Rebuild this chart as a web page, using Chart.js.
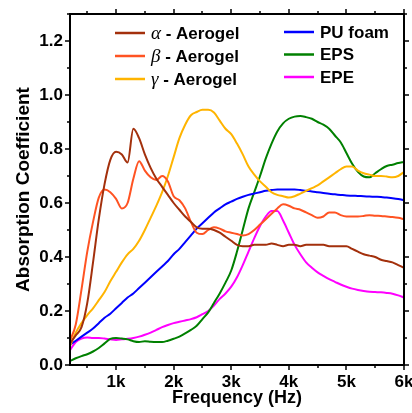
<!DOCTYPE html>
<html>
<head>
<meta charset="utf-8">
<script src="https://cdn.jsdelivr.net/npm/chart.js@4"></script>
<style>
  body { margin: 0; background: #fff; }
  #wrap { width: 412px; height: 413px; }
</style>
</head>
<body>
<div id="wrap"><canvas id="chart"></canvas></div>
<script>
// frequency grid (Hz)
const freqHz = [200, 300, 400, 500, 600, 700, 800, 900, 1000, 1100, 1200, 1300, 1400, 1500, 1600, 1700, 1800, 1900, 2000,
  2100, 2200, 2300, 2400, 2500, 2600, 2700, 2800, 2900, 3000, 3100, 3200, 3300, 3400, 3500, 3600, 3700, 3800, 3900, 4000,
  4100, 4200, 4300, 4400, 4500, 4600, 4700, 4800, 4900, 5000, 5100, 5200, 5300, 5400, 5500, 5600, 5700, 5800, 5900, 6000];

const alphaAerogel = [0.08, 0.11, 0.14, 0.23, 0.38, 0.54, 0.67, 0.76, 0.79, 0.78, 0.75, 0.875, 0.84, 0.78, 0.73, 0.69, 0.66, 0.63, 0.60,
  0.575, 0.55, 0.53, 0.51, 0.505, 0.505, 0.50, 0.49, 0.475, 0.46, 0.445, 0.44, 0.44, 0.445, 0.445, 0.445, 0.45, 0.445, 0.44, 0.445,
  0.445, 0.44, 0.445, 0.445, 0.445, 0.445, 0.44, 0.44, 0.44, 0.44, 0.43, 0.42, 0.41, 0.405, 0.40, 0.39, 0.385, 0.38, 0.37, 0.36];
const betaAerogel = [0.09, 0.15, 0.28, 0.42, 0.53, 0.62, 0.65, 0.64, 0.615, 0.58, 0.60, 0.69, 0.755, 0.72, 0.695, 0.685, 0.70, 0.68, 0.625,
  0.61, 0.58, 0.53, 0.49, 0.485, 0.50, 0.51, 0.505, 0.495, 0.49, 0.485, 0.48, 0.485, 0.50, 0.52, 0.54, 0.56, 0.58, 0.595, 0.59,
  0.58, 0.575, 0.565, 0.555, 0.545, 0.55, 0.565, 0.565, 0.555, 0.55, 0.55, 0.55, 0.552, 0.555, 0.553, 0.552, 0.55, 0.548, 0.545, 0.54];
const gammaAerogel = [0.07, 0.12, 0.155, 0.185, 0.21, 0.24, 0.27, 0.31, 0.345, 0.38, 0.41, 0.43, 0.46, 0.50, 0.545, 0.59, 0.64, 0.70, 0.77,
  0.84, 0.89, 0.925, 0.937, 0.945, 0.945, 0.935, 0.905, 0.875, 0.855, 0.82, 0.78, 0.735, 0.705, 0.68, 0.66, 0.64, 0.63, 0.625, 0.62,
  0.625, 0.635, 0.645, 0.655, 0.665, 0.68, 0.695, 0.71, 0.725, 0.735, 0.735, 0.72, 0.71, 0.705, 0.70, 0.70, 0.698, 0.695, 0.70, 0.715];
const puFoam = [0.075, 0.09, 0.105, 0.12, 0.135, 0.155, 0.175, 0.19, 0.21, 0.23, 0.25, 0.265, 0.285, 0.305, 0.325, 0.345, 0.365, 0.385, 0.41,
  0.43, 0.455, 0.48, 0.505, 0.525, 0.545, 0.565, 0.58, 0.595, 0.605, 0.615, 0.623, 0.63, 0.635, 0.64, 0.645, 0.648, 0.65, 0.65, 0.65,
  0.65, 0.648, 0.645, 0.643, 0.64, 0.637, 0.634, 0.632, 0.63, 0.628, 0.627, 0.626, 0.625, 0.624, 0.623, 0.622, 0.62, 0.618, 0.615, 0.61];
const eps = [0.015, 0.025, 0.033, 0.04, 0.05, 0.063, 0.08, 0.097, 0.10, 0.098, 0.095, 0.088, 0.085, 0.088, 0.086, 0.085, 0.085, 0.09, 0.097,
  0.105, 0.117, 0.13, 0.145, 0.17, 0.195, 0.23, 0.265, 0.305, 0.35, 0.42, 0.50, 0.58, 0.64, 0.70, 0.765, 0.82, 0.865, 0.895, 0.912,
  0.92, 0.922, 0.918, 0.912, 0.90, 0.89, 0.875, 0.85, 0.825, 0.785, 0.745, 0.715, 0.698, 0.695, 0.71, 0.725, 0.737, 0.742, 0.748, 0.752];
const epe = [0.055, 0.085, 0.098, 0.102, 0.10, 0.10, 0.098, 0.095, 0.093, 0.095, 0.097, 0.10, 0.105, 0.112, 0.12, 0.13, 0.14, 0.148, 0.155,
  0.16, 0.165, 0.17, 0.177, 0.188, 0.20, 0.22, 0.245, 0.265, 0.29, 0.325, 0.37, 0.42, 0.47, 0.515, 0.55, 0.57, 0.57, 0.535, 0.49,
  0.445, 0.41, 0.38, 0.36, 0.343, 0.33, 0.318, 0.308, 0.298, 0.29, 0.283, 0.278, 0.274, 0.271, 0.27, 0.269, 0.267, 0.264, 0.258, 0.25];

const xMajor = [1000, 2000, 3000, 4000, 5000, 6000];
const xMinor = [500, 1500, 2500, 3500, 4500, 5500];
const yMajor = [0, 0.2, 0.4, 0.6, 0.8, 1.0, 1.2];
const yMinor = [0.1, 0.3, 0.5, 0.7, 0.9, 1.1, 1.3];

const seriesNames = ['α - Aerogel', 'β - Aerogel', 'γ - Aerogel', 'PU foam', 'EPS', 'EPE'];
const seriesValues = [alphaAerogel, betaAerogel, gammaAerogel, puFoam, eps, epe];
const seriesColors = ['#A3300C', '#FF5322', '#FFB400', '#0000FF', '#008000', '#FF00FF'];

const SANS = '"Liberation Sans", Arial, sans-serif';

// box frame with outward major/minor ticks on all four sides
const frameTicks = {
  id: 'frameTicks',
  afterDraw(chart) {
    const { ctx, chartArea: a, scales: { x, y } } = chart;
    ctx.save();
    ctx.strokeStyle = '#000';
    ctx.lineWidth = 2;
    ctx.strokeRect(a.left, a.top, a.right - a.left, a.bottom - a.top);
    ctx.lineWidth = 1.5;
    ctx.beginPath();
    const markX = (list, len) => {
      list.forEach(v => {
        const px = Math.round(x.getPixelForValue(v));
        ctx.moveTo(px, a.bottom); ctx.lineTo(px, a.bottom + len);
        ctx.moveTo(px, a.top); ctx.lineTo(px, a.top - len);
      });
    };
    const markY = (list, len) => {
      list.forEach(v => {
        const py = Math.round(y.getPixelForValue(v));
        ctx.moveTo(a.left, py); ctx.lineTo(a.left - len, py);
        ctx.moveTo(a.right, py); ctx.lineTo(a.right + len, py);
      });
    };
    markX(xMajor, 5); markX(xMinor, 3);
    markY(yMajor, 5); markY(yMinor, 3);
    ctx.stroke();
    ctx.restore();
  }
};

// two-column legend inside the plot, greek letters in italic serif
const boxLegend = {
  id: 'boxLegend',
  afterDraw(chart) {
    const ctx = chart.ctx;
    const rows = [
      [115, 33], [115, 56], [115, 79],
      [284, 32], [284, 54.5], [284, 77]
    ];
    ctx.save();
    chart.data.datasets.forEach((ds, i) => {
      const [lx, ly] = rows[i];
      ctx.strokeStyle = ds.borderColor;
      ctx.lineWidth = 2.5;
      ctx.beginPath();
      ctx.moveTo(lx, ly); ctx.lineTo(lx + 30, ly);
      ctx.stroke();
      ctx.fillStyle = '#000';
      ctx.textBaseline = 'middle';
      let tx = lx + 36;
      let text = ds.label;
      if (text.includes(' - ')) {
        const greek = text.split(' - ')[0];
        ctx.font = 'italic 19px "Liberation Serif", "Times New Roman", serif';
        ctx.fillText(greek, tx, ly + 1);
        tx += ctx.measureText(greek).width;
        text = ' - ' + text.split(' - ')[1];
      }
      ctx.font = 'bold 17px ' + SANS;
      ctx.fillText(text, tx, ly + 1);
    });
    ctx.restore();
  }
};

const ctx = document.getElementById('chart').getContext('2d');

const chart = new Chart(ctx, {
  type: 'line',
  data: {
    labels: freqHz,
    datasets: seriesNames.map((name, i) => ({
      label: name,
      data: freqHz.map((f, j) => ({ x: f, y: seriesValues[i][j] })),
      borderColor: seriesColors[i],
      backgroundColor: seriesColors[i],
      borderWidth: 2,
      pointRadius: 0,
      cubicInterpolationMode: 'monotone',
      fill: false
    }))
  },
  options: {
    responsive: true,
    maintainAspectRatio: false,
    animation: false,
    events: [],
    layout: { padding: { top: 14, right: 8, left: 0, bottom: 0 } },
    plugins: {
      legend: { display: false },
      tooltip: { enabled: false }
    },
    scales: {
      x: {
        type: 'linear',
        min: 200,
        max: 6000,
        afterBuildTicks: s => { s.ticks = xMajor.map(v => ({ value: v })); },
        afterFit: s => { s.height = 48; s.paddingLeft = 0; s.paddingRight = 0; },
        grid: { display: false, drawTicks: false },
        border: { display: false },
        ticks: {
          padding: 7,
          color: '#000',
          font: { family: SANS, size: 17, weight: 'bold' },
          callback: v => (v / 1000) + 'k'
        },
        title: {
          display: true,
          text: 'Frequency (Hz)',
          color: '#000',
          padding: { top: 0, bottom: 4 },
          font: { family: SANS, size: 18, weight: 'bold', lineHeight: 1.2 }
        }
      },
      y: {
        min: 0,
        max: 1.3,
        afterBuildTicks: s => { s.ticks = yMajor.map(v => ({ value: v })); },
        afterFit: s => { s.width = 70; s.paddingTop = 0; s.paddingBottom = 0; },
        grid: { display: false, drawTicks: false },
        border: { display: false },
        ticks: {
          padding: 7,
          color: '#000',
          font: { family: SANS, size: 17, weight: 'bold' },
          callback: v => v.toFixed(1)
        },
        title: {
          display: true,
          text: 'Absorption Coefficient',
          color: '#000',
          padding: { top: 12, bottom: 0 },
          font: { family: SANS, size: 19, weight: 'bold', lineHeight: 1.2 }
        }
      }
    }
  },
  plugins: [frameTicks, boxLegend]
});
</script>
</body>
</html>
